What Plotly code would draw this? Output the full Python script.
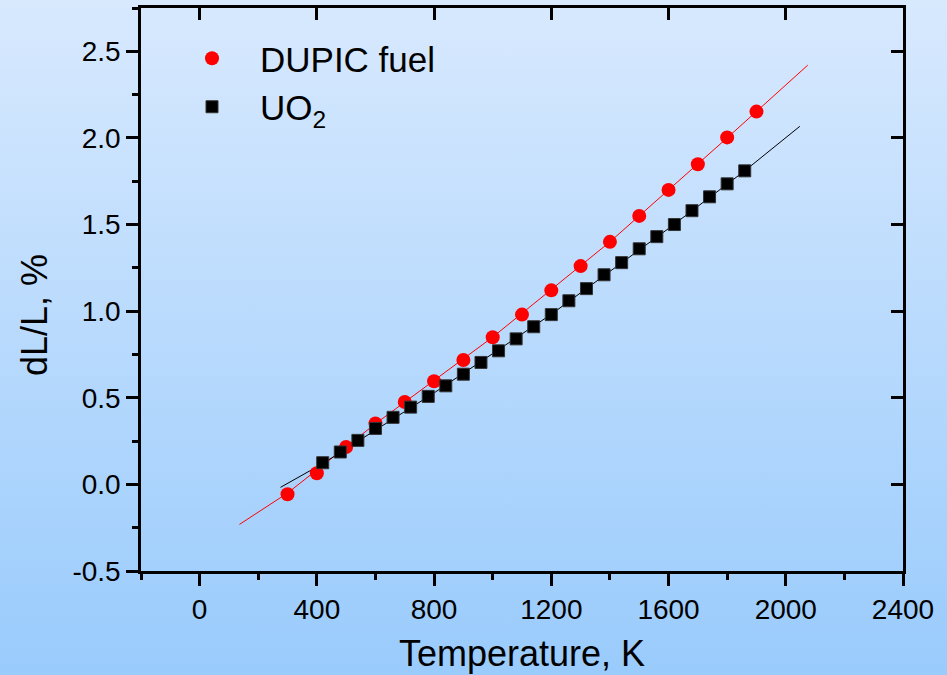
import base64
import plotly.graph_objects as go

# ---- data ----
T_dupic = [300, 400, 500, 600, 700, 800, 900, 1000, 1100, 1200, 1300, 1400, 1500, 1600, 1700, 1800, 1900]
dl_dupic = [-0.057, 0.064, 0.216, 0.352, 0.476, 0.595, 0.718, 0.849, 0.98, 1.12, 1.26, 1.40, 1.55, 1.70, 1.848, 2.003, 2.152]

T_uo2 = [420, 480, 540, 600, 660, 720, 780, 840, 900, 960, 1020, 1080, 1140, 1200, 1260, 1320,
         1380, 1440, 1500, 1560, 1620, 1680, 1740, 1800, 1860]
dl_uo2 = [0.125, 0.187, 0.254, 0.323, 0.387, 0.446, 0.508, 0.569, 0.636, 0.704, 0.771, 0.84, 0.91,
          0.98, 1.06, 1.13, 1.21, 1.28, 1.36, 1.43, 1.50, 1.58, 1.66, 1.735, 1.81]

T_dupic_fit = [136, 300, 600, 1000, 1400, 1800, 2075]
dl_dupic_fit = [-0.231, -0.05, 0.35, 0.85, 1.40, 2.00, 2.42]

T_uo2_fit = [276, 420, 800, 1200, 1600, 1860, 2048]
dl_uo2_fit = [-0.017, 0.12, 0.528, 0.982, 1.477, 1.81, 2.067]

x_tickvals = [0, 400, 800, 1200, 1600, 2000, 2400]
x_ticktext = ["0", "400", "800", "1200", "1600", "2000", "2400"]
y_tickvals = [-0.5, 0.0, 0.5, 1.0, 1.5, 2.0, 2.5]
y_ticktext = ["-0.5", "0.0", "0.5", "1.0", "1.5", "2.0", "2.5"]

# ---- layout geometry ----
W, H = 947, 675
ML, MR, MT, MB = 141, 44, 8, 104
PW, PH = W - ML - MR, H - MT - MB
FONT = "Arial, Liberation Sans, sans-serif"

svg = (f'<svg xmlns="http://www.w3.org/2000/svg" width="{W}" height="{H}" viewBox="0 0 {W} {H}" '
       f'preserveAspectRatio="none"><defs><linearGradient id="g" x1="0" y1="0" x2="0" y2="1">'
       f'<stop offset="0" stop-color="#d8e9fe"/><stop offset="1" stop-color="#99cbfc"/>'
       f'</linearGradient></defs><rect width="{W}" height="{H}" fill="url(#g)"/></svg>')
bg_uri = "data:image/svg+xml;base64," + base64.b64encode(svg.encode()).decode()

fig = go.Figure()
fig.add_trace(go.Scatter(x=T_dupic_fit, y=dl_dupic_fit, mode="lines",
                         line=dict(color="#ff0000", width=1), showlegend=False, hoverinfo="skip"))
fig.add_trace(go.Scatter(x=T_uo2_fit, y=dl_uo2_fit, mode="lines",
                         line=dict(color="#000000", width=1), showlegend=False, hoverinfo="skip"))
fig.add_trace(go.Scatter(x=T_dupic, y=dl_dupic, mode="markers", name="DUPIC fuel",
                         marker=dict(symbol="circle", size=14, color="#ff0000", line=dict(width=0))))
fig.add_trace(go.Scatter(x=T_uo2, y=dl_uo2, mode="markers", name="UO<sub>2</sub>",
                         marker=dict(symbol="square", size=12, color="#000000",
                                     line=dict(width=1, color="#333333"))))
# invisible trace to host the mirrored (top/right) axes
fig.add_trace(go.Scatter(x=[T_dupic[0]], y=[dl_dupic[0]], xaxis="x2", yaxis="y2", mode="markers",
                         marker=dict(opacity=0), showlegend=False, hoverinfo="skip"))

axis_common = dict(showgrid=False, zeroline=False, showline=True, linecolor="black", linewidth=2.5,
                   tickcolor="black", tickwidth=2.5, ticklen=12)

fig.update_layout(
    width=W, height=H,
    margin=dict(l=ML, r=MR, t=MT, b=MB, pad=0),
    paper_bgcolor="#b8dafd", plot_bgcolor="rgba(0,0,0,0)",
    font=dict(family=FONT, color="black", size=28),
    xaxis=dict(range=[-200, 2400], tickmode="array", tickvals=x_tickvals, ticktext=x_ticktext,
               ticks="outside", tickfont=dict(size=28),
               minor=dict(dtick=200, tick0=0, ticks="outside", ticklen=6, tickwidth=2.5, tickcolor="black"),
               **axis_common),
    yaxis=dict(range=[-0.5, 2.75], tickmode="array", tickvals=y_tickvals, ticktext=y_ticktext,
               ticks="outside", tickfont=dict(size=28),
               minor=dict(dtick=0.25, tick0=0, ticks="outside", ticklen=6, tickwidth=2.5, tickcolor="black"),
               **axis_common),
    xaxis2=dict(range=[-200, 2400], overlaying="x", side="top", anchor="y2", tickmode="array",
                tickvals=x_tickvals, ticks="inside", showticklabels=False, **axis_common),
    yaxis2=dict(range=[-0.5, 2.75], overlaying="y", side="right", anchor="x2", tickmode="array",
                tickvals=y_tickvals, ticks="inside", showticklabels=False, **axis_common),
    legend=dict(x=(164 - ML) / PW, y=1 - (29 - MT) / PH, xanchor="left", yanchor="top",
                bgcolor="rgba(0,0,0,0)", font=dict(size=35, family=FONT), itemwidth=86,
                tracegroupgap=0),
    images=[dict(source=bg_uri, xref="paper", yref="paper", x=-ML / PW, y=1 + MT / PH,
                 sizex=W / PW, sizey=H / PH, xanchor="left", yanchor="top",
                 sizing="stretch", layer="below")],
    annotations=[
        dict(text="Temperature, K", xref="paper", yref="paper", x=(522 - ML) / PW,
             y=-(653 - MT - PH) / PH, xanchor="center", yanchor="middle", showarrow=False,
             font=dict(size=36, family=FONT)),
        dict(text="dL/L, %", xref="paper", yref="paper", x=(34 - ML) / PW,
             y=1 - (315 - MT) / PH, xanchor="center", yanchor="middle", showarrow=False,
             textangle=-90, font=dict(size=36, family=FONT)),
    ],
)

fig.write_html("out.html")
